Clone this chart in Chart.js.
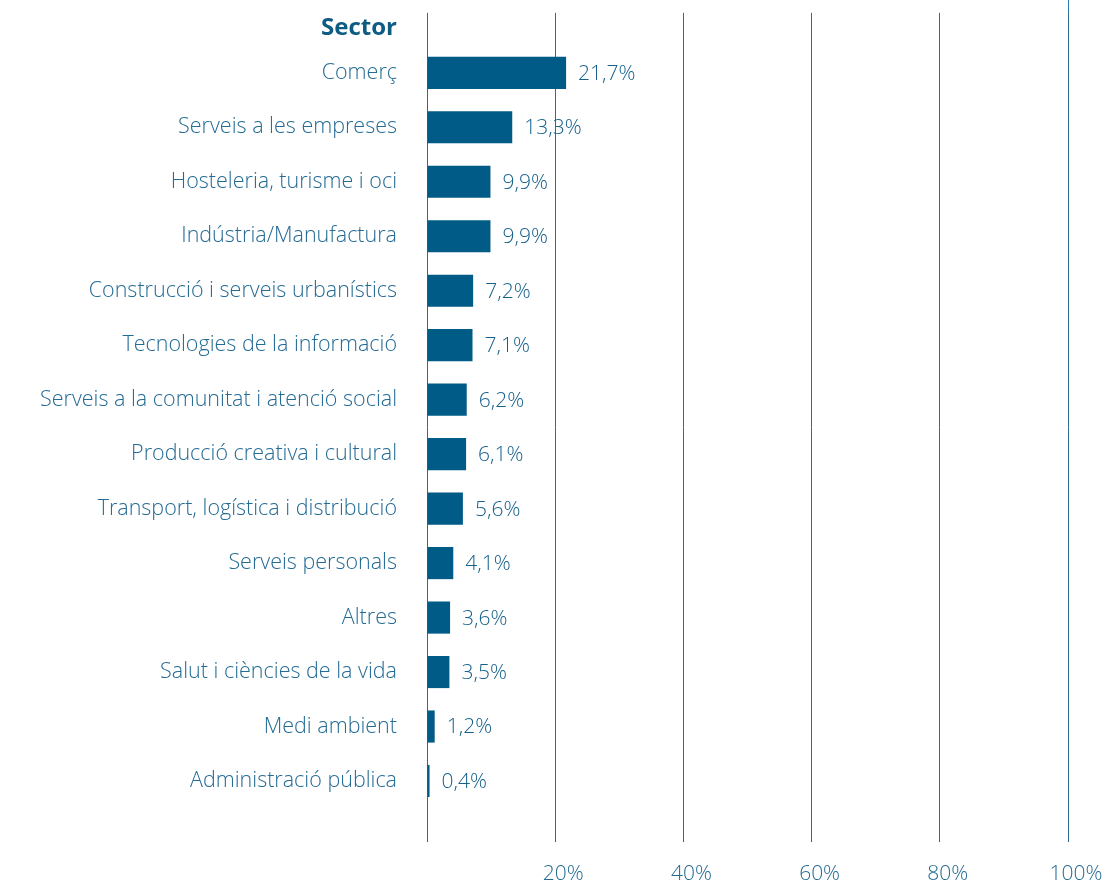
<!DOCTYPE html>
<html>
<head>
<meta charset="utf-8">
<script src="https://cdn.jsdelivr.net/npm/chart.js@4"></script>
<style>
  html, body { margin: 0; padding: 0; background: #ffffff; }
  #wrap { width: 1107px; height: 884px; position: relative; }
</style>
</head>
<body>
<div id="wrap"><canvas id="c"></canvas></div>
<script>
const categories = [
  "Comerç",
  "Serveis a les empreses",
  "Hosteleria, turisme i oci",
  "Indústria/Manufactura",
  "Construcció i serveis urbanístics",
  "Tecnologies de la informació",
  "Serveis a la comunitat i atenció social",
  "Producció creativa i cultural",
  "Transport, logística i distribució",
  "Serveis personals",
  "Altres",
  "Salut i ciències de la vida",
  "Medi ambient",
  "Administració pública"
];
const values = [21.7, 13.3, 9.9, 9.9, 7.2, 7.1, 6.2, 6.1, 5.6, 4.1, 3.6, 3.5, 1.2, 0.4];
const xTicks = [0, 20, 40, 60, 80, 100];
const headerText = "Sector";

const FONT = "'Open Sans', Roboto, sans-serif";
const barColor = "#005b86";
const textColor = "#246b94";
const valueColor = "#16608a";
const gridColor = "#2a6c92";

const fmt = v => v.toFixed(1).replace('.', ',') + '%';

const extrasPlugin = {
  id: 'extras',
  afterDatasetsDraw(chart) {
    const ctx = chart.ctx;
    const xs = chart.scales.x, ys = chart.scales.y;
    const area = chart.chartArea;
    ctx.save();
    // value labels
    ctx.font = "300 21px " + FONT;
    ctx.fillStyle = valueColor;
    ctx.textAlign = 'left';
    ctx.textBaseline = 'middle';
    values.forEach((v, i) => {
      ctx.fillText(fmt(v), xs.getPixelForValue(v) + 12, ys.getPixelForValue(i) + 1);
    });
    // header
    ctx.font = "bold 24px " + FONT;
    ctx.fillStyle = "#0e5b84";
    ctx.textAlign = 'right';
    ctx.fillText(headerText, area.left - 30, area.top + 15);
    // extend last gridline to top edge
    const xr = Math.round(xs.getPixelForValue(xTicks[xTicks.length - 1])) + 0.5;
    ctx.strokeStyle = "#2a7db0";
    ctx.lineWidth = 1;
    ctx.beginPath();
    ctx.moveTo(xr, 0);
    ctx.lineTo(xr, area.top);
    ctx.stroke();
    ctx.restore();
  }
};

new Chart(document.getElementById('c'), {
  type: 'bar',
  data: {
    datasets: [{
      data: values.map((v, i) => ({ x: v, y: i })),
      backgroundColor: barColor,
      borderWidth: 0,
      barPercentage: 0.59,
      categoryPercentage: 1.0
    }]
  },
  options: {
    indexAxis: 'y',
    responsive: true,
    maintainAspectRatio: false,
    animation: false,
    layout: { padding: { top: 12, right: 39, left: 0, bottom: 0 } },
    plugins: { legend: { display: false }, tooltip: { enabled: false } },
    scales: {
      x: {
        type: 'linear',
        min: 0,
        max: 100,
        afterBuildTicks: s => { s.ticks = xTicks.map(v => ({ value: v })); },
        afterFit: s => { s.height = 42; },
        grid: { color: gridColor, lineWidth: 1, drawTicks: true, tickLength: 19, tickColor: 'rgba(0,0,0,0)' },
        border: { display: false },
        ticks: {
          padding: 0,
          labelOffset: 8,
          color: textColor,
          font: { family: FONT, size: 21, weight: 300 },
          callback: v => v === 0 ? '' : v + '%'
        }
      },
      y: {
        type: 'linear',
        reverse: true,
        offset: false,
        min: -1.1,
        max: 14.12,
        afterBuildTicks: s => { s.ticks = categories.map((_, i) => ({ value: i })); },
        afterFit: s => { s.width = 427; },
        grid: { display: true, color: 'rgba(0,0,0,0)', drawTicks: true, tickLength: 30, tickColor: 'rgba(0,0,0,0)' },
        border: { display: false },
        ticks: {
          padding: 0,
          color: textColor,
          font: { family: FONT, size: 21.5, weight: 300 },
          callback: v => categories[v] !== undefined ? categories[v] : ''
        }
      }
    }
  },
  plugins: [extrasPlugin]
});
</script>
</body>
</html>
